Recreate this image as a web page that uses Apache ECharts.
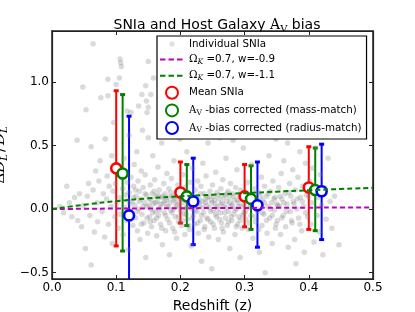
<!DOCTYPE html>
<html><head><meta charset="utf-8">
<script src="https://cdn.jsdelivr.net/npm/echarts@6/dist/echarts.min.js"></script>
<style>html,body{margin:0;padding:0;background:#fff}#c{width:415px;height:312px}</style>
</head><body><div id="c"></div>
<script>
// ---- data ----
const xTicks = [0.0, 0.1, 0.2, 0.3, 0.4, 0.5];
const yTicks = [-0.5, 0.0, 0.5, 1.0];
const xRange = [0, 0.5];
const yRange = [-0.55, 1.4];

const snZ_D = [
[0.012,0.02],[0.018,-0.03],[0.023,0.18],[0.027,0.05],[0.031,-0.06],[0.035,0.09],[0.039,0.54],[0.04,-0.09],[0.043,0.12],[0.046,-0.14],[0.048,0.96],[0.049,0.03],
[0.052,-0.31],[0.053,0.78],[0.055,0.1],[0.057,0.2],[0.059,-0.05],[0.061,-0.44],[0.061,0.49],[0.064,1.30],[0.064,0.15],[0.066,-0.18],[0.068,0.3],[0.07,0.05],[0.071,-0.1],[0.073,0.22],[0.075,0.38],[0.076,0.875],[0.078,-0.02],[0.08,0.12],[0.082,-0.22],[0.083,0.55],[0.085,0.08],[0.086,0.26],[0.087,0.89],[0.087,1.02],[0.088,-0.12],[0.089,0.18],[0.092,0.02],[0.093,0.42],[0.094,-0.27],[0.095,0.14],[0.096,0.68],[0.097,0.33],[0.098,-0.06],[0.099,0.2],[0.10,0.98],
[0.101,0.05],[0.103,-0.15],[0.104,0.28],[0.105,1.03],[0.105,0.09],[0.106,-0.04],[0.106,1.18],[0.107,1.15],[0.108,1.12],[0.11,0.16],[0.111,-0.2],[0.112,0.4],[0.113,0.01],[0.114,0.11],[0.117,0.77],[0.116,-0.09],[0.117,0.21],[0.118,0.07],[0.119,-0.32],[0.12,0.13],[0.12,0.58],[0.122,-0.01],[0.123,0.25],[0.123,0.76],[0.125,0.06],[0.126,-0.13],[0.127,0.18],[0.128,0.35],[0.129,0.03],[0.13,-0.07],[0.131,0.1],[0.132,0.45],[0.133,-0.17],[0.134,0.22],[0.135,0.81],[0.135,0.0],[0.136,0.14],[0.137,-0.24],[0.138,0.08],[0.139,0.3],[0.14,0.90],[0.14,-0.04],[0.141,0.62],[0.142,0.17],[0.143,-0.11],[0.144,0.05],[0.145,0.27],[0.146,0.97],[0.146,-0.38],[0.147,0.85],[0.147,0.11],[0.148,0.76],[0.148,0.02],[0.149,-0.19],[0.15,1.16],[0.15,0.80],[0.15,0.56],
[0.151,0.08],[0.152,-0.06],[0.153,0.19],[0.154,0.90],[0.154,0.0],[0.155,-0.14],[0.156,0.12],[0.157,0.42],[0.158,1.03],[0.158,0.04],[0.159,-0.09],[0.16,0.23],[0.161,-0.02],[0.162,0.1],[0.163,-0.21],[0.164,0.06],[0.165,0.33],[0.166,-0.05],[0.167,0.15],[0.168,0.01],[0.169,-0.12],[0.17,0.09],[0.171,0.52],[0.172,-0.28],[0.173,0.04],[0.174,0.2],[0.175,-0.03],[0.176,0.12],[0.177,-0.17],[0.178,0.07],[0.179,0.28],[0.18,-0.08],[0.181,0.02],[0.182,0.16],[0.183,-0.36],[0.184,0.05],[0.185,-0.01],[0.186,0.24],[0.187,0.1],[0.188,-0.15],[0.189,0.0],[0.19,0.38],[0.191,0.08],[0.192,-0.06],[0.193,0.13],[0.194,-0.23],[0.195,0.03],[0.196,0.19],[0.197,-0.1],[0.198,0.06],[0.199,0.55],[0.2,-0.02],
[0.201,0.11],[0.202,-0.13],[0.203,0.05],[0.204,0.27],[0.205,-0.04],[0.206,0.09],[0.207,-0.2],[0.208,0.17],[0.209,0.01],[0.21,0.45],[0.211,-0.08],[0.212,0.13],[0.213,0.03],[0.214,-0.16],[0.215,0.21],[0.216,0.07],[0.217,-0.29],[0.218,0.0],[0.219,0.32],[0.22,-0.05],[0.221,0.1],[0.222,-0.12],[0.223,0.15],[0.224,0.04],[0.225,0.58],[0.226,-0.02],[0.227,0.22],[0.228,-0.19],[0.229,0.08],[0.23,0.02],[0.231,-0.09],[0.232,0.18],[0.233,-0.41],[0.234,0.06],[0.235,0.36],[0.236,-0.03],[0.237,0.12],[0.238,-0.14],[0.239,0.05],[0.24,0.26],[0.241,-0.07],[0.242,0.09],[0.243,0.52],[0.244,-0.22],[0.245,0.01],[0.246,0.14],[0.247,-0.1],[0.248,0.07],[0.249,-0.47],[0.25,0.19],
[0.251,-0.01],[0.252,0.1],[0.253,-0.15],[0.254,0.04],[0.255,0.29],[0.256,-0.06],[0.257,0.13],[0.258,0.0],[0.259,-0.24],[0.26,0.08],[0.261,0.56],[0.262,-0.03],[0.263,0.16],[0.264,-0.11],[0.265,0.05],[0.266,0.23],[0.267,-0.18],[0.268,0.02],[0.269,0.11],[0.27,-0.07],[0.271,0.4],[0.272,0.06],[0.273,-0.13],[0.274,0.14],[0.275,-0.02],[0.276,0.09],[0.277,-0.31],[0.278,0.2],[0.279,0.03],[0.28,-0.09],[0.281,0.12],[0.282,0.54],[0.283,-0.04],[0.284,0.07],[0.285,-0.2],[0.286,0.17],[0.287,0.0],[0.288,0.31],[0.289,-0.12],[0.29,0.05],[0.291,-0.06],[0.292,0.1],[0.293,-0.38],[0.294,0.15],[0.295,0.02],[0.296,-0.15],[0.297,0.08],[0.298,0.48],[0.299,-0.03],[0.3,0.13],
[0.302,-0.08],[0.303,0.06],[0.305,0.21],[0.306,-0.16],[0.307,0.01],[0.309,0.11],[0.31,-0.05],[0.311,0.35],[0.313,-0.23],[0.314,0.04],[0.315,0.16],[0.317,-0.1],[0.318,0.08],[0.319,0.57],[0.32,-0.02],[0.322,0.13],[0.323,-0.34],[0.324,0.03],[0.326,0.25],[0.327,-0.13],[0.328,0.07],[0.33,-0.04],[0.331,0.18],[0.332,-0.5],[0.334,0.1],[0.335,-0.19],[0.336,0.02],[0.338,0.42],[0.339,-0.07],[0.34,0.14],[0.342,0.05],[0.343,-0.27],[0.344,0.22],[0.346,-0.01],[0.347,0.09],[0.348,-0.15],[0.349,0.55],[0.35,0.04],
[0.351,-0.09],[0.353,0.17],[0.354,0.02],[0.356,-0.2],[0.357,0.28],[0.358,0.08],[0.36,-0.05],[0.361,0.38],[0.363,0.12],[0.364,-0.14],[0.366,0.04],[0.367,0.52],[0.368,-0.3],[0.37,0.2],[0.371,-0.02],[0.372,0.1],[0.374,-0.11],[0.375,0.31],[0.376,0.06],[0.378,-0.24],[0.379,0.15],[0.38,-0.43],[0.381,0.0],[0.383,0.25],[0.384,-0.07],[0.386,0.45],[0.387,0.09],[0.389,-0.17],[0.39,0.18],[0.392,0.02],[0.393,-0.34],[0.395,0.36],[0.396,0.11],[0.398,-0.06],[0.399,0.6],
[0.401,0.22],[0.403,-0.12],[0.404,0.05],[0.406,0.32],[0.408,-0.26],[0.409,0.14],[0.411,0.48],[0.413,-0.05],[0.414,0.09],[0.416,-0.18],[0.418,0.27],[0.42,0.03],[0.422,-0.36],[0.425,0.17],[0.427,-0.08],[0.43,0.4],[0.433,0.06],[0.436,-0.15],[0.44,0.1],[0.447,-0.28]
];

const snCore = [
[0.121,0.04],[0.124,-0.08],[0.127,0.09],[0.13,0.15],[0.133,-0.02],[0.136,0.06],[0.139,-0.12],[0.142,0.02],[0.145,0.12],[0.148,-0.07],
[0.151,0.03],[0.153,-0.1],[0.155,0.07],[0.157,-0.03],[0.159,0.14],[0.161,0.05],[0.163,-0.07],[0.165,0.11],[0.167,-0.01],[0.169,0.04],
[0.171,-0.15],[0.173,0.1],[0.175,0.06],[0.177,-0.05],[0.179,0.02],[0.181,0.09],[0.183,-0.11],[0.185,0.13],[0.187,-0.03],[0.189,0.07],
[0.191,-0.18],[0.193,0.04],[0.195,0.1],[0.197,-0.06],[0.199,0.01],[0.201,0.08],[0.203,-0.09],[0.205,0.14],[0.207,0.0],[0.209,-0.04],
[0.211,0.06],[0.213,-0.13],[0.215,0.02],[0.217,0.11],[0.219,-0.07],[0.221,0.04],[0.223,-0.01],[0.225,0.09],[0.227,-0.11],[0.229,0.05],
[0.231,0.12],[0.233,-0.05],[0.235,0.01],[0.237,-0.16],[0.239,0.08],[0.241,0.03],[0.243,-0.08],[0.245,0.1],[0.247,-0.02],[0.249,0.05],
[0.251,-0.12],[0.253,0.07],[0.255,-0.04],[0.257,0.02],[0.259,0.11],[0.261,-0.08],[0.263,0.04],[0.265,-0.15],[0.267,0.09],[0.269,-0.03],
[0.271,0.01],[0.273,0.12],[0.275,-0.1],[0.277,0.05],[0.279,-0.06],[0.281,0.03],[0.283,0.1],[0.285,-0.01],[0.287,-0.14],[0.289,0.07],
[0.291,0.02],[0.293,-0.09],[0.295,0.11],[0.297,-0.05],[0.299,0.04],[0.301,-0.02],[0.304,0.09],[0.307,-0.11],[0.31,0.03],[0.313,0.07],
[0.316,-0.06],[0.319,0.01],[0.322,-0.16],[0.325,0.1],[0.328,-0.03],[0.331,0.05],[0.334,-0.09],[0.337,0.12],[0.34,0.0],[0.343,-0.05],
[0.346,0.08],[0.349,-0.12],[0.352,0.03],[0.355,0.1],[0.358,-0.07],[0.361,0.05],[0.365,-0.02],[0.369,0.13],[0.373,-0.09],[0.377,0.04],
[0.382,0.08],[0.386,-0.12],[0.39,0.06],[0.395,-0.03],[0.4,0.1]
];

const modelZ   = [0.0, 0.05, 0.10, 0.15, 0.20, 0.25, 0.30, 0.35, 0.40, 0.45, 0.50];
const wm09     = [0.0, 0.002, 0.004, 0.005, 0.006, 0.008, 0.009, 0.010, 0.011, 0.012, 0.013];
const wm11     = [0.0, 0.034, 0.062, 0.084, 0.100, 0.113, 0.125, 0.137, 0.148, 0.158, 0.167];

const meanZ  = [0.10, 0.20, 0.30, 0.40];
const meanV  = [0.32, 0.13, 0.10, 0.17];
const meanLo = [-0.29, -0.11, -0.14, -0.16];
const meanHi = [0.93, 0.37, 0.35, 0.49];

const massZ  = [0.11, 0.21, 0.31, 0.41];
const massV  = [0.28, 0.10, 0.08, 0.15];
const massLo = [-0.33, -0.13, -0.16, -0.17];
const massHi = [0.90, 0.35, 0.34, 0.48];

const radZ   = [0.12, 0.22, 0.32, 0.42];
const radV   = [-0.05, 0.06, 0.03, 0.14];
const radLo  = [-0.85, -0.28, -0.30, -0.24];
const radHi  = [0.73, 0.40, 0.37, 0.51];

// ---- chart ----
const SANS = 'DejaVu Sans';
const SERIF = 'DejaVu Serif';
const chart = echarts.init(document.getElementById('c'), null, {renderer: 'canvas'});

function errBars(name, zs, lo, hi, color) {
  return {
    type: 'custom', name: name, clip: true,
    data: zs.map((z, i) => [z, lo[i], hi[i]]),
    encode: {x: 0, y: [1, 2]},
    renderItem: function (params, api) {
      const x = api.value(0);
      const a = api.coord([x, api.value(1)]);
      const b = api.coord([x, api.value(2)]);
      return {type: 'group', children: [
        {type: 'line', shape: {x1: a[0], y1: a[1], x2: b[0], y2: b[1]}, style: {stroke: color, lineWidth: 2}},
        {type: 'rect', shape: {x: a[0] - 2.5, y: a[1] - 1.5, width: 5, height: 3}, style: {fill: color}},
        {type: 'rect', shape: {x: b[0] - 2.5, y: b[1] - 1.5, width: 5, height: 3}, style: {fill: color}}
      ]};
    }
  };
}
function rings(name, zs, vs, color) {
  return {
    type: 'scatter', name: name, data: zs.map((z, i) => [z, vs[i]]),
    symbol: 'circle', symbolSize: 10,
    itemStyle: {color: '#fff', borderColor: color, borderWidth: 2.6, opacity: 1}
  };
}
const pair = (xs, ys) => xs.map((x, i) => [x, ys[i]]);

const NAMES = {
  ind: 'Individual SNIa',
  m09: 'OmegaK=0.7, w=-0.9',
  m11: 'OmegaK=0.7, w=-1.1',
  mean: 'Mean SNIa',
  mass: 'AV-bias corrected (mass-match)',
  rad: 'AV-bias corrected (radius-match)'
};
const LEGTXT = {};
LEGTXT[NAMES.ind] = 'Individual SNIa';
LEGTXT[NAMES.m09] = '{om|Ω}{k|K}{t| =0.7, w=-0.9}';
LEGTXT[NAMES.m11] = '{om|Ω}{k|K}{t| =0.7, w=-1.1}';
LEGTXT[NAMES.mean] = 'Mean SNIa';
LEGTXT[NAMES.mass] = '{A|A}{v|V}{t| -bias corrected (mass-match)}';
LEGTXT[NAMES.rad] = '{A|A}{v|V}{t| -bias corrected (radius-match)}';

const DASH_ICON = 'path://M0,0L0.01,0M24,12L24.01,12M0,5h5.5v2h-5.5zM8.5,5h5.5v2h-5.5zM17,5h5.5v2h-5.5z';
const DOT_ICON = 'path://M0,0L0.01,0M24,12L24.01,12M9.4,6A2.6,2.6,0,1,0,14.6,6A2.6,2.6,0,1,0,9.4,6Z';

const LF = 10.3;
const SPINE = '#222';
const AX = (w) => ({show: true, onZero: false, lineStyle: {color: SPINE, width: w}});
const TK = () => ({show: true, inside: true, length: 4, lineStyle: {color: SPINE, width: 1}});
const yTK = () => ({show: true, inside: true, length: 4, customValues: yTicks, lineStyle: {color: SPINE, width: 1}});
const option = {
  animation: false,
  backgroundColor: '#fff',
  title: {
    text: '{t|SNIa and Host Galaxy }{a|A}{v|V}{t| bias}',
    left: 212, top: 11, textAlign: 'center',
    textStyle: {
      fontWeight: 'normal',
      rich: {
        t: {fontFamily: SANS, fontSize: 14, fontWeight: 'normal', color: '#000', lineHeight: 18},
        a: {fontFamily: SERIF, fontSize: 14, fontWeight: 'normal', color: '#000', lineHeight: 18},
        v: {fontFamily: SERIF, fontSize: 10, fontWeight: 'normal', color: '#000', lineHeight: 10, verticalAlign: 'bottom'}
      }
    }
  },
  grid: {left: 52, right: 42, top: 31, bottom: 33, containLabel: false, outerBoundsMode: 'none'},
  legend: {
    left: 157, top: 36, orient: 'vertical',
    itemWidth: 24, itemHeight: 12, itemGap: 3.6,
    padding: [2, 5, 4, 3],
    backgroundColor: '#fff', borderColor: '#000', borderWidth: 1.2,
    selectedMode: false,
    data: [
      {name: NAMES.ind, icon: DOT_ICON, itemStyle: {color: 'rgba(128,128,128,0.33)', borderWidth: 0}},
      {name: NAMES.m09, icon: DASH_ICON, itemStyle: {color: '#bf00bf', borderWidth: 0}},
      {name: NAMES.m11, icon: DASH_ICON, itemStyle: {color: '#008000', borderWidth: 0}},
      NAMES.mean, NAMES.mass, NAMES.rad
    ],
    formatter: n => LEGTXT[n],
    textStyle: {
      fontFamily: SANS, fontSize: LF, color: '#000',
      rich: {
        t: {fontFamily: SANS, fontSize: LF, color: '#000', lineHeight: 13},
        om: {fontFamily: SERIF, fontSize: LF, color: '#000', lineHeight: 13},
        k: {fontFamily: SERIF, fontStyle: 'italic', fontSize: 7.5, color: '#000', lineHeight: 7, verticalAlign: 'bottom'},
        A: {fontFamily: SERIF, fontSize: LF, color: '#000', lineHeight: 13},
        v: {fontFamily: SERIF, fontSize: 7.5, color: '#000', lineHeight: 7, verticalAlign: 'bottom'}
      }
    }
  },
  xAxis: [{
    type: 'value', min: xRange[0], max: xRange[1], interval: 0.1, position: 'bottom',
    name: 'Redshift (z)', nameLocation: 'middle', nameGap: 19,
    nameTextStyle: {fontFamily: SANS, fontSize: 14, color: '#000'},
    axisLine: AX(1.5), axisTick: TK(),
    axisLabel: {fontFamily: SANS, fontSize: 12, color: '#000', margin: 3, formatter: v => v.toFixed(1)},
    splitLine: {show: false}
  }, {
    type: 'value', min: xRange[0], max: xRange[1], interval: 0.1, position: 'top',
    axisLine: AX(1.5), axisTick: TK(),
    axisLabel: {show: false}, splitLine: {show: false}
  }],
  yAxis: [{
    type: 'value', min: yRange[0], max: yRange[1], position: 'left',
    name: '{d|Δ}{D|D}{L|L}{s|/}{D|D}{L|L}', nameLocation: 'middle', nameGap: 30, nameRotate: 90,
    nameTextStyle: {
      rich: {
        d: {fontFamily: SERIF, fontSize: 15, color: '#000', lineHeight: 18},
        D: {fontFamily: SERIF, fontStyle: 'italic', fontSize: 15, color: '#000', lineHeight: 18},
        s: {fontFamily: SERIF, fontSize: 15, color: '#000', lineHeight: 18, padding: [0, 2, 0, 2]},
        L: {fontFamily: SERIF, fontStyle: 'italic', fontSize: 10, color: '#000', lineHeight: 10, verticalAlign: 'bottom'}
      }
    },
    axisLine: AX(1.5), axisTick: yTK(),
    axisLabel: {fontFamily: SANS, fontSize: 12, color: '#000', margin: 3, customValues: yTicks,
      formatter: v => (v < 0 ? '\u2212' + Math.abs(v).toFixed(1) : v.toFixed(1))},
    splitLine: {show: false}
  }, {
    type: 'value', min: yRange[0], max: yRange[1], position: 'right',
    axisLine: AX(1.5), axisTick: yTK(),
    axisLabel: {show: false, customValues: yTicks}, splitLine: {show: false}
  }],
  series: [
    {type: 'scatter', name: NAMES.ind, data: snZ_D.concat(snCore), symbolSize: 5.5,
      itemStyle: {color: 'rgba(128,128,128,0.36)'}},
    {type: 'line', name: NAMES.m09, data: pair(modelZ, wm09), xAxisIndex: 1, yAxisIndex: 1,
      showSymbol: false, symbol: 'none', smooth: true,
      lineStyle: {color: '#bf00bf', width: 2, type: [5, 3]}, itemStyle: {color: '#bf00bf'}},
    {type: 'line', name: NAMES.m11, data: pair(modelZ, wm11), xAxisIndex: 1, yAxisIndex: 1,
      showSymbol: false, symbol: 'none', smooth: true,
      lineStyle: {color: '#008000', width: 2, type: [5, 3]}, itemStyle: {color: '#008000'}},
    errBars('meanErr', meanZ, meanLo, meanHi, '#ff0000'),
    rings(NAMES.mean, meanZ, meanV, '#ff0000'),
    errBars('massErr', massZ, massLo, massHi, '#008000'),
    rings(NAMES.mass, massZ, massV, '#008000'),
    errBars('radErr', radZ, radLo, radHi, '#0000ff'),
    rings(NAMES.rad, radZ, radV, '#0000ff'),
    // plot frame (spines), drawn through the axes' own scales
    {
      type: 'custom', name: 'frame', silent: true, clip: false, z: 20,
      data: [[xRange[0], yRange[0], xRange[1], yRange[1]]],
      encode: {x: [0, 2], y: [1, 3]},
      renderItem: function (params, api) {
        const p0 = api.coord([api.value(0), api.value(3)]);
        const p1 = api.coord([api.value(2), api.value(1)]);
        return {type: 'rect', shape: {x: Math.round(p0[0]) + 0.5, y: Math.round(p0[1]) + 0.5,
          width: Math.round(p1[0] - p0[0]), height: Math.round(p1[1] - p0[1])},
          style: {fill: 'none', stroke: SPINE, lineWidth: 1.2}};
      }
    }
  ]
};
chart.setOption(option);
</script>
</body></html>
